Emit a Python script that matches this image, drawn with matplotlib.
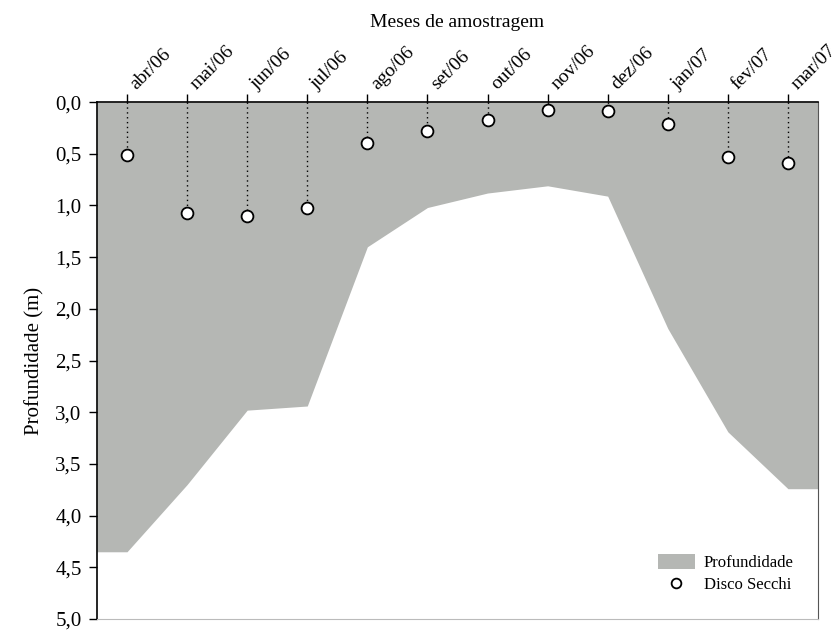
import matplotlib.pyplot as plt
import matplotlib.ticker as mticker
import matplotlib.transforms as mtransforms
from matplotlib.patches import Patch
from matplotlib.lines import Line2D
import numpy as np

plt.rcParams['font.family'] = ['Liberation Serif', 'DejaVu Serif']

months = ["abr/06", "mai/06", "jun/06", "jul/06", "ago/06", "set/06",
          "out/06", "nov/06", "dez/06", "jan/07", "fev/07", "mar/07"]
depth = [4.35, 3.70, 2.98, 2.94, 1.40, 1.02, 0.88, 0.81, 0.91, 2.19, 3.19, 3.74]
secchi = [0.51, 1.07, 1.10, 1.02, 0.40, 0.28, 0.17, 0.08, 0.09, 0.21, 0.53, 0.59]

fill_color = "#b5b7b4"

fig = plt.figure(figsize=(8.33, 6.3), dpi=100)
ax = fig.add_axes([0.1164, 0.0175, 0.8656, 0.8205])

x = np.arange(len(months))
# extend the depth profile flat to the plot edges
xf = np.concatenate([[-0.5], x, [len(months) - 0.5]])
df = np.concatenate([[depth[0]], depth, [depth[-1]]])
ax.fill_between(xf, 0, df, color=fill_color, linewidth=0, zorder=1)

ax.vlines(x, 0, secchi, colors="black", linestyles=(0, (1, 2.5)), linewidth=1, zorder=2)
ax.plot(x, secchi, "o", markersize=8.5, markerfacecolor="white",
        markeredgecolor="black", markeredgewidth=1.3, zorder=3)

ax.set_xlim(-0.5, len(months) - 0.5)
ax.set_ylim(5, 0)
ax.xaxis.tick_top()
ax.xaxis.set_label_position("top")
ax.set_xticks(x)
ax.set_xticklabels([])
# month labels drawn as rotated text, nudged right of each tick
shift = mtransforms.ScaledTranslation(7 / 72, 8.5 / 72, fig.dpi_scale_trans)
for xi, m in zip(x, months):
    ax.text(xi, 1, m, transform=ax.get_xaxis_transform() + shift,
            rotation=45, ha="left", va="baseline", rotation_mode="anchor",
            fontsize=14)
ax.set_yticks(np.arange(0, 5.01, 0.5))
ax.yaxis.set_major_formatter(mticker.FuncFormatter(lambda v, p: f"{v:.1f}".replace(".", ",")))
ax.tick_params(axis="y", labelsize=15, direction="out", length=6, width=1, pad=5)
ax.tick_params(axis="x", direction="out", length=6, width=1, pad=3)

ax.set_xlabel("Meses de amostragem", fontsize=14, labelpad=45)
ax.set_ylabel("Profundidade (m)", fontsize=15, labelpad=8)

ax.spines["top"].set_linewidth(1.2)
ax.spines["left"].set_linewidth(1.2)
ax.spines["right"].set_color("#555555")
ax.spines["bottom"].set_color("#bbbbbb")

handles = [Patch(facecolor=fill_color, edgecolor="none", label="Profundidade"),
           Line2D([], [], marker="o", linestyle="none", markerfacecolor="white",
                  markeredgecolor="black", markersize=7, markeredgewidth=1.3,
                  label="Disco Secchi")]
ax.legend(handles=handles, loc="center", frameon=False, fontsize=12,
          bbox_to_anchor=(0.872, 0.088), handlelength=2.2, handleheight=1.0,
          handletextpad=0.55, labelspacing=0.3)

fig.savefig("out.png", dpi=100)
